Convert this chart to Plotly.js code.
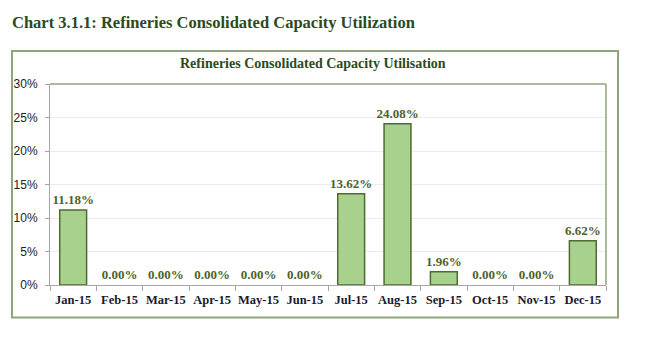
<!DOCTYPE html>
<html><head><meta charset="utf-8">
<script src="https://cdn.plot.ly/plotly-3.0.1.min.js"></script>
<style>html,body{margin:0;padding:0;background:#fff}#chart{width:646px;height:342px}</style>
</head><body><div id="chart"></div>
<script>
const months = ['Jan-15','Feb-15','Mar-15','Apr-15','May-15','Jun-15','Jul-15','Aug-15','Sep-15','Oct-15','Nov-15','Dec-15'];
const utilisation = [11.18,0,0,0,0,0,13.62,24.08,1.96,0,0,6.62];
const yTicks = [0,5,10,15,20,25,30];

const serif = '"Liberation Serif", "DejaVu Serif", serif';
const trace = {
  type:'bar', x:months, y:utilisation,
  marker:{color:'#A9D18E', line:{color:'#4E6B30', width:utilisation.map(v => v > 0 ? 1.5 : 0)}},
  texttemplate:'%{y:.2f}%', textposition:'outside', cliponaxis:false, constraintext:'none',
  textfont:{family:serif, size:13, color:'#4F6228', weight:'bold'},
  hoverinfo:'skip'
};
const L=50, R=606, T=84, B=285.5;
const px = v => (v-L)/(R-L), py = v => (B-v)/(B-T);
const layout = {
  width:646, height:342,
  margin:{l:50, r:40, t:84, b:56.5, pad:0},
  paper_bgcolor:'#fff', plot_bgcolor:'#fff',
  bargap:0.42, showlegend:false,
  title:{text:'<b>Chart 3.1.1: Refineries Consolidated Capacity Utilization</b>', xref:'container', yref:'container', x:12/646, xanchor:'left', y:1-22/342, yanchor:'middle', font:{family:serif, size:16.5, color:'#2C4A1E'}},
  xaxis:{type:'category', showline:true, linecolor:'#a6a6a6', linewidth:1, ticks:'outside', tickson:'boundaries', ticklen:5, tickcolor:'#a6a6a6', tickangle:0, ticklabelstandoff:3, tickfont:{family:serif, size:12.5, color:'#1a1a2e', weight:'bold'}, showgrid:false, fixedrange:true},
  yaxis:{range:[0,30], tickvals:yTicks, ticktext:yTicks.map(v=>v+'%'), showline:true, linecolor:'#a6a6a6', linewidth:1, ticks:'outside', ticklen:4, tickcolor:'#a6a6a6', ticklabelstandoff:5, showgrid:true, gridcolor:'#ececec', gridwidth:1, zeroline:false, tickfont:{family:'"Liberation Sans", Arial, sans-serif', size:12, color:'#222'}, fixedrange:true},
  annotations:[{text:'<b>Refineries Consolidated Capacity Utilisation</b>', xref:'paper', yref:'paper', x:px(313), y:py(63), xanchor:'center', yanchor:'middle', showarrow:false, font:{family:serif, size:14, color:'#2C4A1E'}}],
  shapes:[
    {type:'rect', xref:'paper', yref:'paper', x0:px(12), x1:px(618), y0:py(318), y1:py(51), line:{color:'#8CA57A', width:2}, layer:'below'},
    {type:'line', xref:'paper', yref:'paper', x0:0, x1:1, y0:1, y1:1, line:{color:'#8CA57A', width:1.5}},
    {type:'line', xref:'paper', yref:'paper', x0:1, x1:1, y0:0, y1:1, line:{color:'#8CA57A', width:1.5}}
  ]
};
Plotly.newPlot('chart',[trace],layout,{staticPlot:true, displayModeBar:false});
</script></body></html>
